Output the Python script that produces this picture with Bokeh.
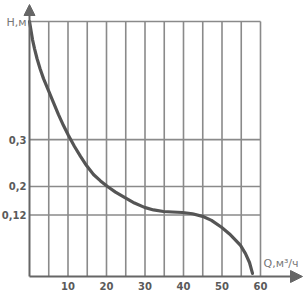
from bokeh.plotting import figure
from bokeh.models import Range1d, Arrow, NormalHead
from bokeh.core.properties import value
from bokeh.embed import file_html
from bokeh.resources import INLINE

# Data (Q in m3/h; H given as axis position, the gridlines are schematic)
q_ticks = [10, 20, 30, 40, 50, 60]
q_tick_labels = ["10", "20", "30", "40", "50", "60"]
q_grid = [5, 10, 15, 20, 25, 30, 35, 40, 45, 50, 55, 60]
h_tick_pos = [0.241, 0.353, 0.537]
h_tick_labels = ["0,12", "0,2", "0,3"]
h_top = 1.0
curve_q = [0, 0.39, 0.78, 1.30, 1.95, 2.73, 3.64, 4.94, 6.23, 7.53, 8.83,
           10.13, 11.69, 13.25, 14.81, 16.62, 18.44, 20.26, 22.34, 24.68,
           27.27, 29.87, 32.21, 34.81, 37.14, 39.74, 42.34, 44.94, 47.27,
           49.87, 51.95, 53.51, 54.81, 56.1, 57.14, 57.92]
curve_h = [1.0, 0.965, 0.929, 0.894, 0.855, 0.816, 0.776, 0.729, 0.682, 0.635,
           0.592, 0.553, 0.510, 0.471, 0.435, 0.400, 0.375, 0.353, 0.331, 0.310,
           0.288, 0.271, 0.261, 0.255, 0.253, 0.251, 0.246, 0.236, 0.220,
           0.193, 0.167, 0.143, 0.122, 0.090, 0.055, 0.012]

X0, X1 = -7.532, 71.169
Y0, Y1 = -0.0784, 1.0824
X_ARROW = 70.91
Y_ARROW = 1.0667

p = figure(width=303, height=296, output_backend="svg", toolbar_location=None,
           title=None, x_range=Range1d(X0, X1), y_range=Range1d(Y0, Y1),
           min_border=0)
p.axis.visible = False
p.grid.visible = False
p.outline_line_color = None
p.background_fill_color = "white"
p.border_fill_color = "white"

grid_color = "#8a8a8a"
axis_color = "#666666"

# vertical grid lines
p.segment(x0=q_grid, y0=[0] * len(q_grid), x1=q_grid, y1=[h_top] * len(q_grid),
          line_color=grid_color, line_width=1.6)
# horizontal grid lines
hl = h_tick_pos + [h_top]
p.segment(x0=[0] * len(hl), y0=hl, x1=[60] * len(hl), y1=hl,
          line_color=grid_color, line_width=1.6)

# curve
p.line(curve_q, curve_h, line_color="#555555", line_width=3.2,
       line_join="round", line_cap="round")

# axes with arrow heads
p.add_layout(Arrow(end=NormalHead(size=11, fill_color=axis_color, line_color=axis_color),
                   x_start=0, y_start=0, x_end=0, y_end=Y_ARROW,
                   line_color=axis_color, line_width=2))
p.add_layout(Arrow(end=NormalHead(size=12, fill_color=axis_color, line_color=axis_color),
                   x_start=0, y_start=0, x_end=X_ARROW, y_end=0,
                   line_color=axis_color, line_width=2))

font = value("DejaVu Sans")
# tick labels
p.text(x=q_ticks, y=[-0.0373] * len(q_ticks), text=q_tick_labels,
       text_font=font, text_font_style="bold", text_font_size="10px",
       text_color="#5a5a5a", text_align="center", text_baseline="middle")
p.text(x=[0] * len(h_tick_pos), y=h_tick_pos, text=h_tick_labels, x_offset=-3,
       text_font=font, text_font_style="bold", text_font_size="10px",
       text_color="#5a5a5a", text_align="right", text_baseline="middle")

# axis names
p.text(x=[0], y=[h_top], text=["H,м"], x_offset=-3, y_offset=1,
       text_font=font, text_font_size="11px", text_color="#777777",
       text_align="right", text_baseline="middle")
p.text(x=[60], y=[0.051], text=["Q,м³/ч"], x_offset=3,
       text_font=font, text_font_size="11px", text_color="#777777",
       text_align="left", text_baseline="middle")

open("out.html", "w").write(file_html(p, INLINE))
